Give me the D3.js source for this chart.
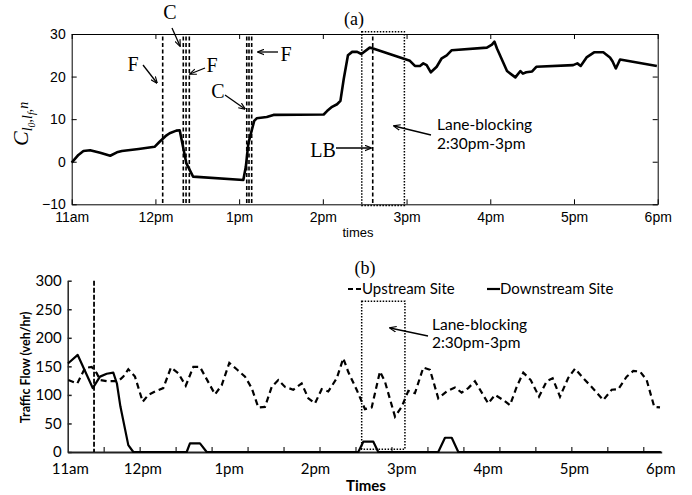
<!DOCTYPE html>
<html><head><meta charset="utf-8">
<script src="https://cdn.jsdelivr.net/npm/d3@7"></script>
<style>body{margin:0;background:#fff}svg{display:block}</style>
</head><body>
<svg id="chart" width="692" height="495"></svg>
<script>
// ---------- DATA ----------
// (a) cumulative statistic C over time (decimal hours)
const cTime  = [11.00,11.08,11.14,11.22,11.34,11.46,11.54,11.60,11.80,11.99,12.05,12.12,12.17,12.25,12.29,12.33,12.37,12.45,13.05,13.08,13.11,13.18,13.21,13.33,13.41,14.01,14.05,14.11,14.17,14.21,14.25,14.30,14.35,14.41,14.46,14.56,14.60,15.04,15.10,15.16,15.20,15.24,15.29,15.36,15.42,15.48,15.54,15.96,16.02,16.05,16.08,16.20,16.28,16.30,16.36,16.39,16.43,16.50,16.55,16.99,17.04,17.08,17.15,17.24,17.35,17.43,17.46,17.50,17.55,17.99];
const cValue = [-0.2,1.6,2.5,2.7,2.1,1.4,2.2,2.5,3.0,3.5,4.7,6.0,6.7,7.3,7.4,3.5,-0.4,-3.5,-4.3,-1.2,4.3,9.6,10.2,10.5,11.0,11.1,11.9,12.9,13.5,14.3,19.5,25.0,25.8,25.8,25.3,26.8,26.6,23.7,22.5,22.5,23.1,22.7,21.0,22.3,24.3,25.0,26.2,26.8,27.5,28.2,26.6,21.3,20.1,19.8,21.3,20.7,21.0,21.2,22.3,22.7,23.1,22.5,24.5,25.7,25.7,24.5,23.6,21.9,24.0,22.5];
const cTicks = [-10,0,10,20,30];
const hourTicks = [11,12,13,14,15,16,17,18];
const hourLabels = ["11am","12pm","1pm","2pm","3pm","4pm","5pm","6pm"];
const eventTimes = [12.087,12.333,12.366,12.405,13.091,13.118,13.150]; // F / C dashed lines
const lbTime = 14.596;
const topBlockWindow = [14.465,14.974];

// (b) traffic flow (veh/hr)
const upTime = [11.137,11.241,11.33,11.408,11.466,11.504,11.582,11.716,11.774,11.832,11.909,11.999,12.064,12.141,12.237,12.326,12.411,12.497,12.585,12.662,12.836,12.914,13.002,13.094,13.184,13.261,13.338,13.415,13.493,13.569,13.647,13.743,13.84,13.917,13.994,14.072,14.148,14.246,14.322,14.38,14.477,14.573,14.651,14.747,14.805,14.921,14.998,15.075,15.152,15.249,15.326,15.422,15.52,15.616,15.693,15.77,15.847,16.001,16.079,16.175,16.253,16.33,16.407,16.493,16.589,16.678,16.747,16.832,16.928,17.006,17.102,17.199,17.333,17.431,17.507,17.604,17.681,17.759,17.836,17.924,17.99];
const upFlow = [126,120,147,149,138,126,124,124,132,145,132,88,100,106,112,148,138,116,149,149,101,117,156,144,132,112,78,79,114,126,114,109,120,94,85,110,106,129,164,140,109,75,78,141,123,62,79,107,103,148,144,94,106,113,104,112,124,85,100,91,82,114,139,126,97,124,129,97,130,146,129,114,91,109,110,132,142,141,126,79,78];
const downTime = [11.133,11.246,11.42,11.504,11.582,11.658,11.70,11.74,11.832,11.89,12.508,12.546,12.662,12.74,14.496,14.554,14.67,14.727,15.422,15.5,15.578,15.654,18.0];
const downFlow = [155,170,112,132,137,139,120,80,12,0,0,15,15,0,0,18,18,0,0,25,25,0,0];
const flowTicks = [0,50,100,150,200,250,300];
const incidentTime = 11.435;
const bottomBlockWindow = [14.535,15.036];
const bottomBlockTop = 264;

// ---------- DRAW ----------
const svg = d3.select("#chart");
const defs = svg.append("defs");
defs.append("marker").attr("id","ah").attr("viewBox","0 0 10 10").attr("refX",9).attr("refY",5)
  .attr("markerWidth",7).attr("markerHeight",7).attr("orient","auto-start-reverse").attr("markerUnits","userSpaceOnUse")
  .append("path").attr("d","M0,1 L10,5 L0,9").attr("fill","none").attr("stroke","#000").attr("stroke-width",1.6);

const serif = "'Liberation Serif','Times New Roman',serif";
const helv = "'Liberation Sans',Arial,sans-serif";
const cal = "Lato,'Open Sans',sans-serif";

// ===== (a) =====
const xa = d3.scaleLinear().domain([11,18]).range([71.7,657.7]);
const ya = d3.scaleLinear().domain([-10,30]).range([204.3,34]);

function styleAxis(g){ g.selectAll("path,line").attr("stroke","#000").attr("stroke-width",1); g.selectAll("text").attr("fill","#000"); }

svg.append("g").attr("transform",`translate(0,${ya(-10)})`)
  .call(d3.axisBottom(xa).tickValues(hourTicks).tickFormat((d,i)=>hourLabels[i]).tickSizeInner(-5).tickSizeOuter(0).tickPadding(8))
  .call(styleAxis).selectAll("text").attr("font-family",helv).attr("font-size",14);
svg.append("g").attr("transform",`translate(0,${ya(30)})`)
  .call(d3.axisTop(xa).tickValues(hourTicks).tickFormat("").tickSizeInner(-5).tickSizeOuter(0)).call(styleAxis);
svg.append("g").attr("transform",`translate(${xa(11)},0)`)
  .call(d3.axisLeft(ya).tickValues(cTicks).tickSizeInner(-5).tickSizeOuter(0).tickPadding(6))
  .call(styleAxis).selectAll("text").attr("font-family",helv).attr("font-size",14);
svg.append("g").attr("transform",`translate(${xa(18)},0)`)
  .call(d3.axisRight(ya).tickValues(cTicks).tickFormat("").tickSizeInner(-5).tickSizeOuter(0)).call(styleAxis);

// event dashed lines
svg.append("g").selectAll("line").data(eventTimes.concat([lbTime])).join("line")
  .attr("x1",d=>xa(d)).attr("x2",d=>xa(d)).attr("y1",ya(29.4)).attr("y2",ya(-10))
  .attr("stroke","#000").attr("stroke-width",1.6).attr("stroke-dasharray","4,2.5");
// lane blocking box
svg.append("rect").attr("x",xa(topBlockWindow[0])).attr("y",ya(30.55))
  .attr("width",xa(topBlockWindow[1])-xa(topBlockWindow[0])).attr("height",ya(-10.3)-ya(30.55))
  .attr("fill","none").attr("stroke","#000").attr("stroke-width",1.5).attr("stroke-dasharray","1.5,1.5");
// curve
svg.append("path").datum(cTime.map((t,i)=>[t,cValue[i]]))
  .attr("d",d3.line().x(d=>xa(d[0])).y(d=>ya(d[1])))
  .attr("fill","none").attr("stroke","#000").attr("stroke-width",2.6).attr("stroke-linejoin","round");

// annotations (a)
const annA = [
  {t:"C", x:170, y:19, ax:[172,28,180,46]},
  {t:"F", x:133, y:71, ax:[143,65,157,83]},
  {t:"F", x:212, y:71.5, ax:[205,68,190,74]},
  {t:"C", x:218, y:98, ax:[225,95,245,109]},
  {t:"F", x:286, y:61, ax:[278,52,258,52]},
  {t:"LB", x:323, y:157, ax:[336,148,371,148]}
];
annA.forEach(a=>{
  svg.append("text").attr("x",a.x).attr("y",a.y).attr("text-anchor","middle").attr("font-family",serif).attr("font-size",20).text(a.t);
  svg.append("line").attr("x1",a.ax[0]).attr("y1",a.ax[1]).attr("x2",a.ax[2]).attr("y2",a.ax[3])
    .attr("stroke","#000").attr("stroke-width",1.3).attr("marker-end","url(#ah)");
});
svg.append("text").attr("x",354).attr("y",25).attr("text-anchor","middle").attr("font-family",serif).attr("font-size",18).text("(a)");
const lbA = svg.append("text").attr("font-family",cal).attr("font-size",15.5);
lbA.append("tspan").attr("x",437).attr("y",130).text("Lane-blocking");
lbA.append("tspan").attr("x",437).attr("y",149).text("2:30pm-3pm");
svg.append("line").attr("x1",431).attr("y1",135).attr("x2",394).attr("y2",126)
  .attr("stroke","#000").attr("stroke-width",1.3).attr("marker-end","url(#ah)");
svg.append("text").attr("x",358).attr("y",237).attr("text-anchor","middle").attr("font-family",helv).attr("font-size",13).text("times");

// y label C_{l0,lf,n}
const yl = svg.append("text").attr("transform","translate(28,146) rotate(-90)").attr("font-family",serif).attr("font-style","italic");
yl.append("tspan").attr("font-size",22).text("C");
yl.append("tspan").attr("font-size",14).attr("dy",4).text("l");
yl.append("tspan").attr("font-size",10).attr("dy",3).text("0");
yl.append("tspan").attr("font-size",14).attr("dy",-3).text(",l");
yl.append("tspan").attr("font-size",10).attr("dy",3).text("f");
yl.append("tspan").attr("font-size",14).attr("dy",-3).text(",");
yl.append("tspan").attr("font-size",14).attr("dy",-4).text("n");

// ===== (b) =====
const xb = d3.scaleLinear().domain([11.13,18.01]).range([67.7,661.7]);
const yb = d3.scaleLinear().domain([0,300]).range([452,280.7]);

svg.append("g").attr("transform",`translate(${xb.range()[0]},0)`)
  .call(d3.axisLeft(yb).tickValues(flowTicks).tickSizeInner(-4).tickSizeOuter(0).tickPadding(6))
  .call(g=>{g.selectAll("path,line").attr("stroke","#222").attr("stroke-width",1.5);
            g.selectAll("text").attr("fill","#000").attr("font-family",cal).attr("font-size",15);});
const tickTimes = d3.range(1,17).map(k=>xb.domain()[0]+k*25/60);
svg.append("g").attr("transform",`translate(0,${yb(0)})`)
  .call(d3.axisBottom(xb).tickValues(tickTimes).tickFormat("").tickSizeInner(-5).tickSizeOuter(0))
  .call(g=>{g.selectAll("path").attr("stroke","#222").attr("stroke-width",2);
            g.selectAll("line").attr("stroke","#222").attr("stroke-width",1.2);});
svg.append("g").selectAll("text").data(hourTicks).join("text")
  .attr("x",d=>Math.max(xb(d), xb.range()[0]+2.6)).attr("y",474).attr("text-anchor","middle")
  .attr("font-family",cal).attr("font-size",15).text((d,i)=>hourLabels[i]);

// incident line
svg.append("line").attr("x1",xb(incidentTime)).attr("x2",xb(incidentTime)).attr("y1",yb(300)).attr("y2",yb(0))
  .attr("stroke","#000").attr("stroke-width",1.8).attr("stroke-dasharray","5,2");
// lane-blocking box
svg.append("rect").attr("x",xb(bottomBlockWindow[0])).attr("y",yb(bottomBlockTop))
  .attr("width",xb(bottomBlockWindow[1])-xb(bottomBlockWindow[0])).attr("height",yb(5)-yb(bottomBlockTop))
  .attr("fill","none").attr("stroke","#000").attr("stroke-width",1.5).attr("stroke-dasharray","1.5,1.5");

const lineB = d3.line().x(d=>xb(d[0])).y(d=>yb(d[1]));
svg.append("path").datum(upTime.map((t,i)=>[t,upFlow[i]])).attr("d",lineB)
  .attr("fill","none").attr("stroke","#000").attr("stroke-width",2.2).attr("stroke-dasharray","6,4");
svg.append("path").datum(downTime.map((t,i)=>[t,downFlow[i]])).attr("d",lineB)
  .attr("fill","none").attr("stroke","#000").attr("stroke-width",2.2).attr("stroke-linejoin","round");

// legend
svg.append("line").attr("x1",348).attr("x2",362).attr("y1",289).attr("y2",289).attr("stroke","#000").attr("stroke-width",2).attr("stroke-dasharray","5,3");
svg.append("text").attr("x",362).attr("y",294).attr("font-family",cal).attr("font-size",15).text("Upstream Site");
svg.append("line").attr("x1",487).attr("x2",500).attr("y1",289).attr("y2",289).attr("stroke","#000").attr("stroke-width",2.2);
svg.append("text").attr("x",500).attr("y",294).attr("font-family",cal).attr("font-size",15).text("Downstream Site");

svg.append("text").attr("x",365).attr("y",274).attr("text-anchor","middle").attr("font-family",serif).attr("font-size",18).text("(b)");
const lbB = svg.append("text").attr("font-family",cal).attr("font-size",15.5);
lbB.append("tspan").attr("x",432).attr("y",330).text("Lane-blocking");
lbB.append("tspan").attr("x",432).attr("y",348).text("2:30pm-3pm");
svg.append("line").attr("x1",428).attr("y1",336).attr("x2",390).attr("y2",328)
  .attr("stroke","#000").attr("stroke-width",1.3).attr("marker-end","url(#ah)");

svg.append("text").attr("transform",`translate(30,${(yb(0)+yb(300))/2+1}) rotate(-90)`).attr("text-anchor","middle")
  .attr("font-family",cal).attr("font-weight","bold").attr("font-size",12.5).text("Traffic Flow (veh/hr)");
svg.append("text").attr("x",366).attr("y",491).attr("text-anchor","middle").attr("font-family",cal).attr("font-weight","bold").attr("font-size",15).text("Times");
</script>
</body></html>
